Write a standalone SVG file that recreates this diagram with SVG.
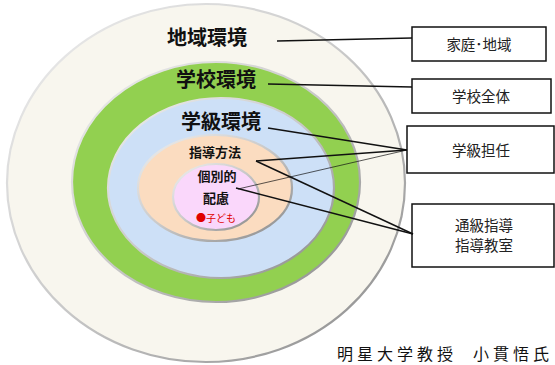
<svg xmlns="http://www.w3.org/2000/svg" width="555" height="365" viewBox="0 0 555 365">
<style>
.lbl{font-family:"Noto Sans CJK JP","Noto Sans",sans-serif;font-weight:bold;fill:#111;text-anchor:middle}
.box{fill:#fff;stroke:#111;stroke-width:1.5}
.bt{font-family:"Noto Sans CJK JP","Noto Sans",sans-serif;font-size:14.5px;fill:#222;text-anchor:middle}
.ln{stroke:#111;stroke-width:1.4;fill:none}
.ring{stroke:url(#rim);stroke-width:2.2}
</style>
<defs>
<linearGradient id="rim" x1="0" y1="0" x2="1" y2="1">
<stop offset="0" stop-color="#f0f0f0"/>
<stop offset="0.5" stop-color="#c8c8c8"/>
<stop offset="1" stop-color="#888"/>
</linearGradient>
</defs>
<g id="ring-region">
<ellipse cx="206" cy="183" rx="199" ry="179" fill="#f8f6ee" class="ring"/>
<text class="lbl" x="207" y="45" font-size="20">地域環境</text>
</g>
<g id="ring-school">
<ellipse cx="216" cy="182" rx="144" ry="120" fill="#92d050" class="ring"/>
<text class="lbl" x="216" y="87" font-size="20">学校環境</text>
</g>
<g id="ring-class">
<ellipse cx="221" cy="188" rx="113" ry="90" fill="#cde0f7" class="ring"/>
<text class="lbl" x="221" y="129" font-size="20">学級環境</text>
</g>
<g id="ring-method">
<ellipse cx="215" cy="188" rx="77" ry="53" fill="#fbdcc0" class="ring"/>
<text class="lbl" x="215" y="157" font-size="13">指導方法</text>
</g>
<g id="ring-care">
<ellipse cx="216" cy="197" rx="43" ry="33" fill="#fad7fb" class="ring"/>
<text class="lbl" x="217" y="181" font-size="13">個別的</text>
<text class="lbl" x="216" y="203" font-size="13">配慮</text>
<text x="216" y="222" font-size="10" fill="#e00000" text-anchor="middle" font-family="Noto Sans CJK JP,sans-serif">●子ども</text>
</g>
<g id="box-family">
<rect class="box" x="412" y="27" width="134" height="34"/>
<text class="bt" x="479" y="50">家庭･地域</text>
</g>
<g id="box-school">
<rect class="box" x="412" y="79" width="139" height="34"/>
<text class="bt" x="481" y="102">学校全体</text>
</g>
<g id="box-teacher">
<rect class="box" x="407" y="126" width="147" height="47"/>
<text class="bt" x="481" y="156">学級担任</text>
</g>
<g id="box-tsukyu">
<rect class="box" x="412" y="204" width="142" height="63"/>
<text class="bt" x="484" y="231" font-size="14">通級指導</text>
<text class="bt" x="484" y="251" font-size="14">指導教室</text>
</g>
<g id="connectors">
<line class="ln" x1="277" y1="41" x2="412" y2="38"/>
<line class="ln" x1="268" y1="84" x2="412" y2="87"/>
<line class="ln" x1="268" y1="128" x2="407" y2="150"/>
<line class="ln" x1="256" y1="161" x2="407" y2="150"/>
<line stroke="#111" stroke-width="0.7" x1="238" y1="189" x2="407" y2="150"/>
<line class="ln" x1="256" y1="161" x2="413" y2="234"/>
<line class="ln" x1="236" y1="188" x2="413" y2="234"/>
</g>
<text x="337" y="360" font-size="16" letter-spacing="4" fill="#111" font-family="Noto Sans CJK JP,sans-serif">明星大学教授<tspan x="473">小貫悟氏</tspan></text>
</svg>
